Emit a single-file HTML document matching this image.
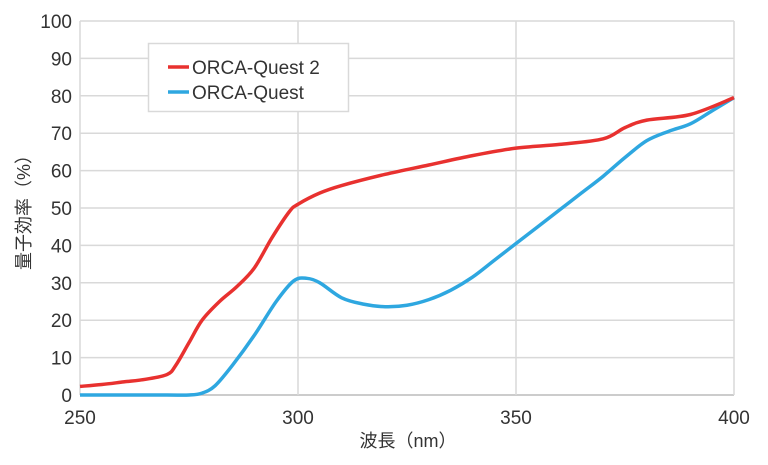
<!DOCTYPE html>
<html><head><meta charset="utf-8"><style>
body{margin:0;background:#fff;}
svg{display:block;font-family:"Liberation Sans","Noto Sans CJK JP",sans-serif;}
</style></head><body>
<svg id="chart" width="768" height="465" viewBox="0 0 768 465"></svg>
<script>
const xTicks=[250,300,350,400];
const yTicks=[0,10,20,30,40,50,60,70,80,90,100];
const redX=[250,255,260,265,270,272,275,278,282,286,290,294,298,300,305,310,320,330,340,350,360,370,375,380,390,400];
const redY=[2.3,2.8,3.5,4.2,5.5,8,14,20,25,29,34,42,49,51,54,56,59,61.5,64,66,67,68.5,71.5,73.5,75,79.5];
const blueX=[250,260,270,275,278,281,285,290,295,299,302,305,310,315,320,325,330,335,340,345,350,355,360,365,370,375,380,385,390,395,400];
const blueY=[0,0,0,0,0.5,2.5,8,16,25,30.5,31.2,30,26,24.3,23.6,24,25.5,28,31.5,36,40.5,45,49.5,54,58.5,63.5,68,70.5,72.5,76,79.5];
const L=80,R=734,T=21,B=395;
const sx=v=>L+(v-250)/150*(R-L);
const sy=v=>B-v/100*(B-T);
const svg=document.getElementById('chart');
const NS='http://www.w3.org/2000/svg';
function mk(tag,attrs,txt){const e=document.createElementNS(NS,tag);for(const k in attrs)e.setAttribute(k,attrs[k]);if(txt!==undefined)e.textContent=txt;svg.appendChild(e);return e;}
yTicks.forEach(t=>{
 const g=mk('line',{x1:L,x2:R,y1:sy(t),y2:sy(t),stroke:t===0?'#bbb':'#d9d9d9','stroke-width':1.5});
 
 
 const l=mk('text',{x:72,y:sy(t)+7,'text-anchor':'end','font-size':19,fill:'#333'},t);
 
 
});
xTicks.forEach(t=>{
 const g=mk('line',{x1:sx(t),x2:sx(t),y1:T,y2:B,stroke:'#d9d9d9','stroke-width':1.5});
 
 
 const l=mk('text',{x:sx(t),y:424,'text-anchor':'middle','font-size':19,fill:'#333'},t);
 
 
});
function path(xs,ys){
 const p=xs.map((x,i)=>[sx(x),sy(ys[i])]);
 let d='M'+p[0][0]+','+p[0][1];
 for(let i=0;i<p.length-1;i++){
  const p0=p[Math.max(0,i-1)],p1=p[i],p2=p[i+1],p3=p[Math.min(p.length-1,i+2)];
  const c1=[p1[0]+(p2[0]-p0[0])/6,p1[1]+(p2[1]-p0[1])/6];
  const c2=[p2[0]-(p3[0]-p1[0])/6,p2[1]-(p3[1]-p1[1])/6];
  d+=' C'+c1+' '+c2+' '+p2;
 }
 return d;
}
const bl=mk('path',{d:path(blueX,blueY),fill:'none',stroke:'#2ea7e0','stroke-width':3.5,'stroke-linejoin':'round'});


const rl=mk('path',{d:path(redX,redY),fill:'none',stroke:'#e8312f','stroke-width':3.5,'stroke-linejoin':'round'});


</script>
<svg style="position:absolute;left:0;top:0" width="768" height="465">
<g font-family="Liberation Sans, sans-serif">
<rect x="148.5" y="43.5" width="200" height="68" fill="#fff" stroke="#d9d9d9" stroke-width="1.5"/>
<line x1="168" x2="189" y1="67" y2="67" stroke="#e8312f" stroke-width="3.5"/>
<text x="192" y="74" font-size="19" fill="#333">ORCA-Quest 2</text>
<line x1="168" x2="189" y1="92" y2="92" stroke="#2ea7e0" stroke-width="3.5"/>
<text x="192" y="99" font-size="19" fill="#333">ORCA-Quest</text>
</g>
<text x="408" y="447" text-anchor="middle" font-size="18" fill="#333" font-family="Liberation Sans, Noto Sans CJK JP, sans-serif">波長（nm）</text>
<text transform="translate(30,208) rotate(-90)" text-anchor="middle" font-size="18" fill="#333" font-family="Liberation Sans, Noto Sans CJK JP, sans-serif">量子効率（%）</text>
</svg>
</body></html>
